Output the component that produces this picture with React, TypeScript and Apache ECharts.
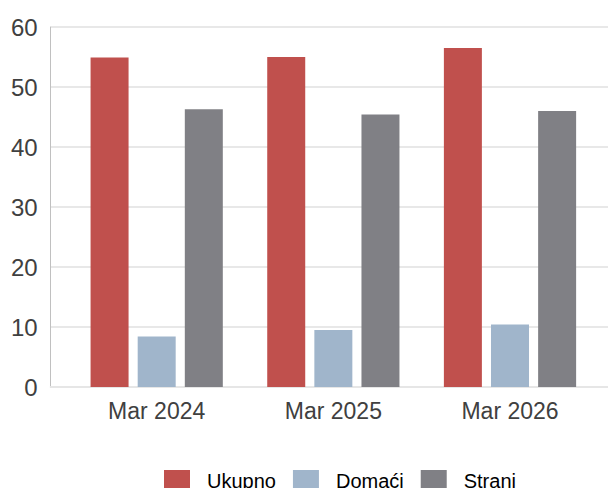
import React, { useEffect, useRef } from "react";
import * as echarts from "echarts";

const categories = ["Mar 2024", "Mar 2025", "Mar 2026"];
const ukupno = [54.9, 55.0, 56.5];
const domaci = [8.4, 9.5, 10.4];
const strani = [46.3, 45.4, 46.0];
const yTicks = { min: 0, max: 60, interval: 10 };

const toPoints = (vals: number[]) => vals.map((v, i) => [i, v]);

export default function App() {
  const ref = useRef<HTMLDivElement>(null);
  useEffect(() => {
    if (!ref.current) return;
    const chart = echarts.init(ref.current, undefined, { renderer: "svg" });
    const font = "'Liberation Sans', Arial, sans-serif";
    chart.setOption({
      animation: false,
      textStyle: { fontFamily: font },
      grid: { left: 40, right: 0, top: 19, bottom: 101, containLabel: false },
      legend: {
        top: 457,
        left: 151,
        itemWidth: 26,
        itemHeight: 22,
        itemGap: 17,
        icon: "rect",
        textStyle: { fontSize: 20, color: "#000", fontFamily: font, padding: [9, 0, 0, 12] },
        data: ["Ukupno", "Domaći", "Strani"],
      },
      xAxis: {
        type: "value",
        min: -0.6,
        max: 2.6,
        splitLine: { show: false },
        axisTick: { show: false },
        axisLine: { show: true, onZero: false, lineStyle: { color: "#e6e6e6", width: 2 } },
        axisLabel: {
          customValues: [0, 1, 2],
          formatter: (v: number) => categories[Math.round(v)] ?? "",
          fontSize: 23,
          color: "#404040",
          margin: 12,
          fontFamily: font,
        },
      },
      yAxis: {
        type: "value",
        min: yTicks.min,
        max: yTicks.max,
        interval: yTicks.interval,
        axisLine: { show: true, onZero: false, lineStyle: { color: "#c0c0c0", width: 1 } },
        axisTick: { show: false },
        splitLine: { lineStyle: { color: "#e8e8e8", width: 2 } },
        axisLabel: { fontSize: 24, color: "#404040", margin: 13, fontFamily: font },
      },
      series: [
        { name: "Ukupno", type: "bar", data: toPoints(ukupno), barWidth: 38, barGap: "24%", itemStyle: { color: "#c0504d" } },
        { name: "Domaći", type: "bar", data: toPoints(domaci), barWidth: 38, barGap: "24%", itemStyle: { color: "#a0b5cb" } },
        { name: "Strani", type: "bar", data: toPoints(strani), barWidth: 38, barGap: "24%", itemStyle: { color: "#808085" } },
      ],
    });
    return () => chart.dispose();
  }, []);
  return <div ref={ref} style={{ width: 608, height: 480 }} />;
}
